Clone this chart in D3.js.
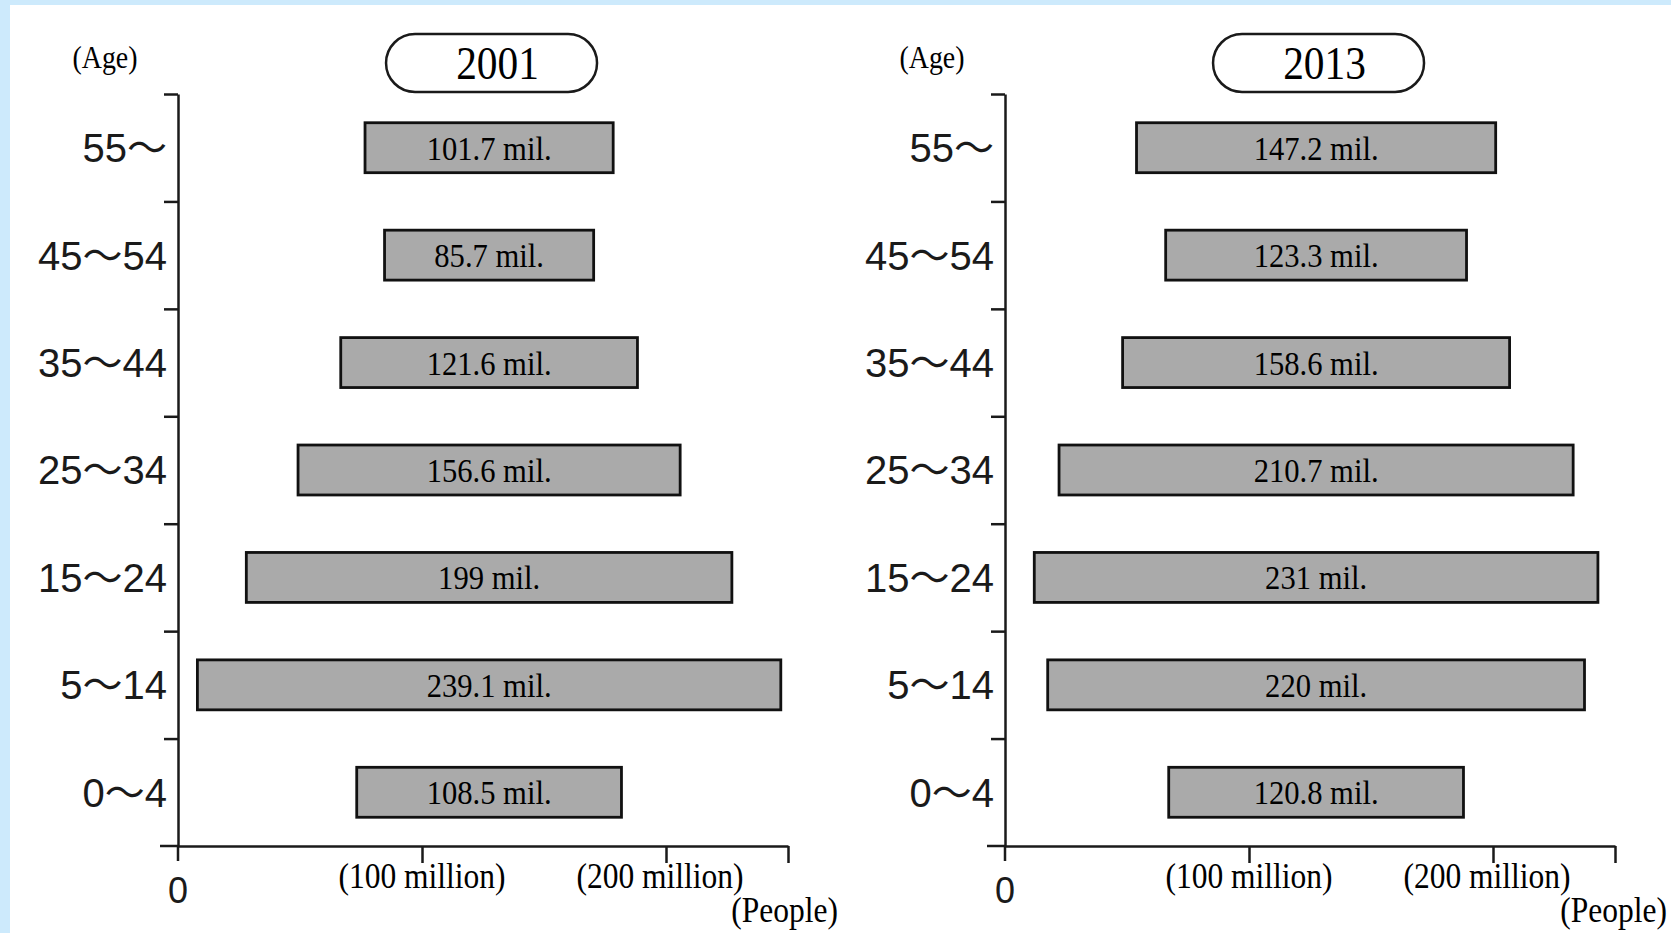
<!DOCTYPE html>
<html>
<head>
<meta charset="utf-8">
<script src="https://cdn.jsdelivr.net/npm/d3@7"></script>
<style>
  html, body { margin: 0; padding: 0; background: #fff; }
  #chart { position: relative; width: 1671px; height: 933px; }
</style>
</head>
<body>
<div id="chart"></div>
<script>
// age groups, top to bottom
var ages = ["55〜", "45〜54", "35〜44", "25〜34", "15〜24", "5〜14", "0〜4"];
var years = ["2001", "2013"];
// population in millions
var pop2001 = [101.7, 85.7, 121.6, 156.6, 199, 239.1, 108.5];
var pop2013 = [147.2, 123.3, 158.6, 210.7, 231, 220, 120.8];
var xTicks = [100, 200];
var xTickLabels = ["(100 million)", "(200 million)"];

var svgWidth = 1671;
var svgHeight = 933;
var plotTop = 94;
var plotBottom = 846;
var panelLeft = [178, 1005];
var panelWidth = 610;   // 0 .. 250 million
var ink = "#1a1a1a";
var serif = "'Liberation Serif', 'Times New Roman', serif";
var sans = "'Liberation Sans', Arial, 'Noto Sans CJK JP', sans-serif";

var svg = d3.select("#chart")
    .append("svg")
    .attr("width", svgWidth)
    .attr("height", svgHeight);

// light blue frame on top and left
svg.append("rect").attr("x", 0).attr("y", 0).attr("width", svgWidth).attr("height", 5).attr("fill", "#cdeafc");
svg.append("rect").attr("x", 0).attr("y", 0).attr("width", 10).attr("height", svgHeight).attr("fill", "#cdeafc");

// serif text squeezed a little, like the printed original
function narrowText(parent, x, y, size, anchor, txt) {
    return parent.append("text")
        .attr("transform", "translate(" + x + "," + y + ") scale(0.9,1)")
        .attr("text-anchor", anchor)
        .attr("font-family", serif)
        .attr("font-size", size)
        .attr("fill", "#000")
        .text(txt);
}

function drawPanel(p, year, values) {
    var x0 = panelLeft[p];
    var x = d3.scaleLinear().domain([0, 250]).range([x0, x0 + panelWidth]);
    var yBand = d3.scaleBand().domain(ages).range([plotTop, plotBottom])
        .paddingInner(0.535).paddingOuter(0.2675);
    var yLin = d3.scaleLinear().domain([0, ages.length]).range([plotTop, plotBottom]);
    var centre = 127.5; // bars are drawn centred like a pyramid

    var g = svg.append("g");

    // y axis with boundary ticks
    var yAxis = g.append("g")
        .attr("transform", "translate(" + x0 + ",0)")
        .call(d3.axisLeft(yLin).tickValues(d3.range(0, ages.length)).tickSizeInner(14).tickSizeOuter(0).tickFormat(""));
    yAxis.selectAll("path, line").attr("stroke", ink).attr("stroke-width", 2.5);
    g.append("line")
        .attr("x1", x0).attr("x2", x0)
        .attr("y1", plotBottom).attr("y2", plotBottom + 15)
        .attr("stroke", ink).attr("stroke-width", 2.5);

    // age labels
    var ageAxis = g.append("g")
        .attr("transform", "translate(" + (x0 - 11) + ",0)")
        .call(d3.axisLeft(yBand).tickSize(0).tickPadding(0));
    ageAxis.select(".domain").remove();
    ageAxis.selectAll("text")
        .attr("font-family", sans)
        .attr("font-size", 40)
        .attr("fill", ink)
        .attr("dy", "0.36em");

    // x axis
    var xAxis = g.append("g")
        .attr("transform", "translate(0," + plotBottom + ")")
        .call(d3.axisBottom(x).tickValues([100, 200, 250]).tickSizeInner(17).tickSizeOuter(0).tickFormat(""));
    xAxis.selectAll("path, line").attr("stroke", ink).attr("stroke-width", 2.5);
    g.append("line")
        .attr("x1", x0 - 18).attr("x2", x0)
        .attr("y1", plotBottom).attr("y2", plotBottom)
        .attr("stroke", ink).attr("stroke-width", 2.5);

    xTicks.forEach(function (d, i) {
        narrowText(g, x(d) - (d === 200 ? 6 : 0), plotBottom + 42, 35, "middle", xTickLabels[i]);
    });

    g.append("text")
        .attr("x", x(0))
        .attr("y", plotBottom + 57)
        .attr("text-anchor", "middle")
        .attr("font-family", sans)
        .attr("font-size", 36)
        .attr("fill", ink)
        .text("0");

    narrowText(g, x(250) + (p === 0 ? 50 : 52), plotBottom + 76, 35, "end", "(People)");
    narrowText(g, x0 - 73, 68, 31, "middle", "(Age)");

    // year pill
    var pillW = 211, pillH = 58;
    var pillX = x(128.5);
    g.append("rect")
        .attr("x", pillX - pillW / 2)
        .attr("y", 34)
        .attr("width", pillW)
        .attr("height", pillH)
        .attr("rx", 29)
        .attr("ry", 29)
        .attr("fill", "#fff")
        .attr("stroke", ink)
        .attr("stroke-width", 2.5);
    narrowText(g, pillX + 6, 79, 46, "middle", year);

    // bars
    g.selectAll(".bar")
        .data(values)
        .enter()
        .append("rect")
        .attr("x", function (d) { return x(centre - d / 2); })
        .attr("y", function (d, i) { return yBand(ages[i]); })
        .attr("width", function (d) { return x(d) - x(0); })
        .attr("height", yBand.bandwidth())
        .attr("fill", "#aaaaaa")
        .attr("stroke", "#111")
        .attr("stroke-width", 2.8);

    values.forEach(function (d, i) {
        narrowText(g, x(centre), yBand(ages[i]) + yBand.bandwidth() / 2 + 12, 34, "middle", d + " mil.");
    });
}

drawPanel(0, years[0], pop2001);
drawPanel(1, years[1], pop2013);
</script>
</body>
</html>
